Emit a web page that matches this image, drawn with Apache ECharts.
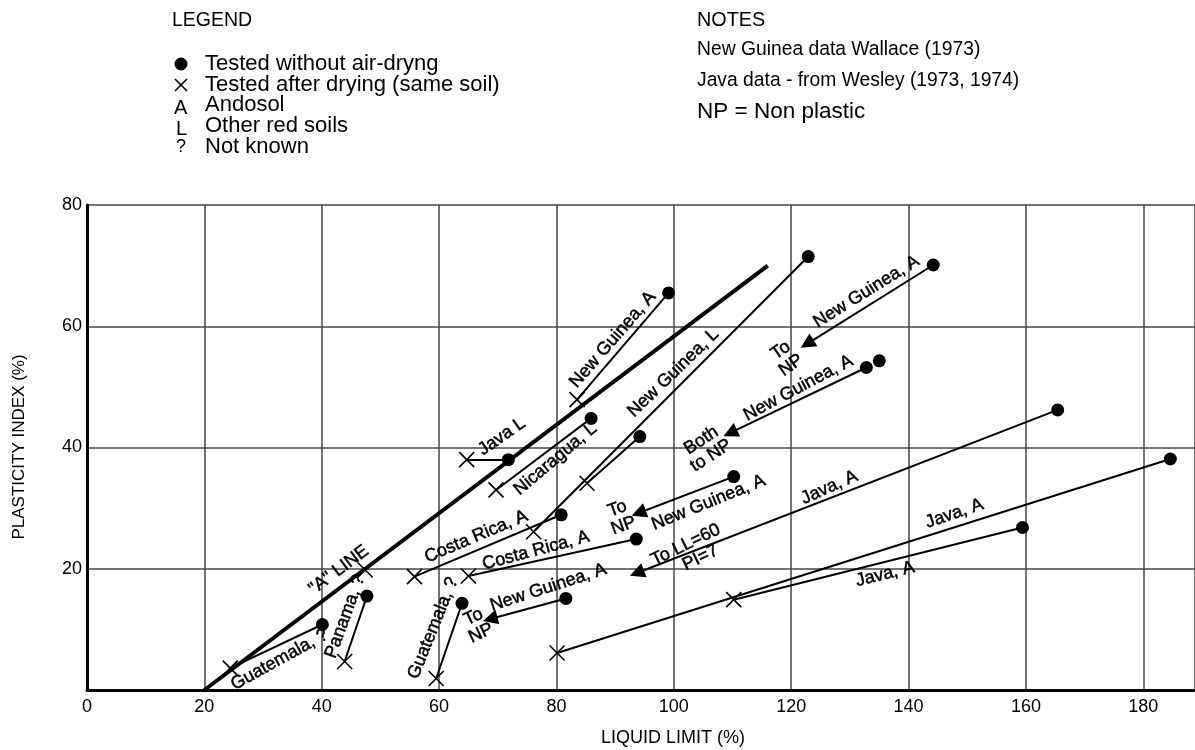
<!DOCTYPE html>
<html><head><meta charset="utf-8">
<script src="https://cdn.jsdelivr.net/npm/echarts@6/dist/echarts.min.js"></script>
<style>html,body{margin:0;padding:0;background:#fff}#c{width:1195px;height:750px}</style>
</head><body><div id="c"></div>
<script>
// ---- data (LL %, PI %) ----
const xTicks = [0, 20, 40, 60, 80, 100, 120, 140, 160, 180];
const yTicks = [20, 40, 60, 80];
// Tested without air-drying
const undried = [
  [40.1, 10.8], [47.7, 15.5], [63.9, 14.3], [81.6, 15.1], [80.8, 28.9], [93.6, 24.9],
  [110.2, 35.2], [94.2, 41.8], [85.9, 44.8], [71.8, 38.0], [99.1, 65.5], [122.9, 71.5],
  [144.2, 70.1], [132.8, 53.2], [135.0, 54.3], [165.4, 46.2], [184.6, 38.1], [159.4, 26.8]
];
// Tested after drying (same soil)
const dried = [
  [24.4, 3.6], [43.9, 4.7], [47.4, 19.8], [59.5, 1.9], [55.8, 18.7], [65.0, 18.8],
  [76.1, 26.1], [85.2, 34.1], [69.7, 33.0], [64.7, 38.0], [83.5, 47.9], [110.2, 14.9], [80.1, 6.1]
];
// links: [undried index, dried index]
const dryingLinks = [[0, 0], [1, 1], [2, 3], [4, 4], [5, 5], [11, 6], [7, 7], [8, 8], [9, 9], [10, 10], [17, 11], [16, 12]];
// arrows: [undried index, target]
const arrowTargets = [[12, [122.7, 57.1]], [13, [109.6, 42.4]], [6, [94.0, 29.2]], [3, [68.7, 11.7]], [15, [93.7, 19.3]]];
const aLine = [[20, 0], [116, 70]];
const annotations = [
  { text: '"A" LINE', at: [42.9, 19.8], angle: 37 },
  { text: 'Guatemala, ?', at: [32.8, 5.0], angle: 29 },
  { text: 'Panama, ?', at: [44.0, 12.1], angle: 70 },
  { text: 'Guatemala, ?', at: [59.0, 10.2], angle: 68 },
  { text: 'To\nNP', at: [66.5, 10.7], angle: 25 },
  { text: 'New Guinea, A', at: [78.6, 16.9], angle: 18 },
  { text: 'Costa Rica, A', at: [76.5, 23.0], angle: 15 },
  { text: 'Costa Rica, A', at: [66.3, 25.3], angle: 23 },
  { text: 'To\nNP', at: [90.9, 28.5], angle: 20 },
  { text: 'New Guinea, A', at: [105.9, 30.9], angle: 22 },
  { text: 'To LL=60\n   PI=7', at: [102.7, 22.6], angle: 26 },
  { text: 'Java, A', at: [126.5, 33.4], angle: 24 },
  { text: 'Java, A', at: [147.8, 29.1], angle: 19 },
  { text: 'Java, A', at: [136.0, 19.1], angle: 14 },
  { text: 'Java L', at: [70.7, 41.8], angle: 35 },
  { text: 'Nicaragua, L', at: [79.8, 38.1], angle: 40 },
  { text: 'New Guinea, L', at: [99.9, 52.3], angle: 44 },
  { text: 'New Guinea, A', at: [89.6, 57.8], angle: 49 },
  { text: 'New Guinea, A', at: [132.8, 65.7], angle: 32 },
  { text: 'To\nNP', at: [119.1, 54.8], angle: 35 },
  { text: 'New Guinea, A', at: [121.2, 49.8], angle: 28 },
  { text: 'Both\nto NP', at: [105.5, 39.9], angle: 33 }
];

const FONT = '"Liberation Sans", Arial, Helvetica, sans-serif';
const chart = echarts.init(document.getElementById('c'), null, { renderer: 'canvas' });

const linkData = dryingLinks.map(([u, d]) => ({ coords: [undried[u], dried[d]] }));
const arrowData = arrowTargets.map(([u, t]) => ({ coords: [undried[u], t] }));

const txt = (x, y, text, size, extra) => Object.assign({
  type: 'text', x, y, style: { text, fontFamily: FONT, fontSize: size, fill: '#000', verticalAlign: 'middle' }
}, extra || {});

const legendRows = [64, 85, 105, 126, 147];
const graphics = [
  txt(172, 21, 'LEGEND', 19.5),
  { type: 'circle', shape: { cx: 181, cy: legendRows[0], r: 6.5 }, style: { fill: '#000' } },
  { type: 'line', shape: { x1: 175, y1: legendRows[1] - 6, x2: 187, y2: legendRows[1] + 6 }, style: { stroke: '#000', lineWidth: 1.6 } },
  { type: 'line', shape: { x1: 187, y1: legendRows[1] - 6, x2: 175, y2: legendRows[1] + 6 }, style: { stroke: '#000', lineWidth: 1.6 } },
  txt(174, legendRows[2] + 3, 'A', 20),
  txt(176, legendRows[3] + 3, 'L', 20),
  txt(176, legendRows[4], '?', 18),
  txt(205, legendRows[0], 'Tested without air-dryng', 22),
  txt(205, legendRows[1], 'Tested after drying (same soil)', 22),
  txt(205, legendRows[2], 'Andosol', 22),
  txt(205, legendRows[3], 'Other red soils', 22),
  txt(205, legendRows[4], 'Not known', 22),
  txt(697, 21, 'NOTES', 19.8),
  txt(697, 50, 'New Guinea data Wallace (1973)', 19.3),
  txt(697, 81, 'Java data - from Wesley (1973, 1974)', 19.3),
  txt(697, 112, 'NP = Non plastic', 22.5),
  { type: 'text', x: 673, y: 738, style: { text: 'LIQUID LIMIT (%)', fontFamily: FONT, fontSize: 18, fill: '#000', align: 'center', verticalAlign: 'middle' } },
  { type: 'text', x: 19, y: 447, rotation: Math.PI / 2, style: { text: 'PLASTICITY INDEX (%)', fontFamily: FONT, fontSize: 17, fill: '#000', align: 'center', verticalAlign: 'middle' } }
];

const crossPath = 'path://M0 0L10 10M10 0L0 10';

chart.setOption({
  backgroundColor: '#fff',
  animation: false,
  textStyle: { fontFamily: FONT },
  grid: { left: 87, right: 0, top: 205, bottom: 60, containLabel: false },
  xAxis: {
    type: 'value', min: 0, max: 188.8, interval: 20,
    axisLine: { show: true, lineStyle: { color: '#000', width: 3 } },
    axisTick: { show: false },
    axisLabel: { color: '#000', fontSize: 18, margin: 8, fontFamily: FONT, showMaxLabel: false,
      formatter: v => (xTicks.indexOf(v) >= 0 ? String(v) : '') },
    splitLine: { show: true, lineStyle: { color: '#444', width: 1.5 } }
  },
  yAxis: {
    type: 'value', min: 0, max: 80, interval: 20,
    axisLine: { show: true, onZero: false, lineStyle: { color: '#000', width: 3 } },
    axisTick: { show: false },
    axisLabel: { color: '#000', fontSize: 18, margin: 5, fontFamily: FONT, showMinLabel: false,
      formatter: v => (yTicks.indexOf(v) >= 0 ? String(v) : '') },
    splitLine: { show: true, lineStyle: { color: '#444', width: 1.5 } }
  },
  graphic: graphics,
  series: [
    {
      type: 'lines', coordinateSystem: 'cartesian2d', z: 3,
      data: [{ coords: aLine }],
      lineStyle: { color: '#000', width: 4, opacity: 1 }, symbol: ['none', 'none']
    },
    {
      type: 'lines', coordinateSystem: 'cartesian2d', z: 3,
      data: linkData,
      lineStyle: { color: '#000', width: 2, opacity: 1 }, symbol: ['none', 'none']
    },
    {
      type: 'lines', coordinateSystem: 'cartesian2d', z: 3,
      data: arrowData,
      lineStyle: { color: '#000', width: 2, opacity: 1 },
      symbol: ['none', 'triangle'], symbolSize: [9, 15],
      itemStyle: { color: '#000' }
    },
    {
      type: 'scatter', z: 5, symbol: 'circle', symbolSize: 13,
      itemStyle: { color: '#000', opacity: 1 },
      data: undried
    },
    {
      type: 'scatter', z: 5, symbol: crossPath, symbolSize: 15,
      itemStyle: { color: 'none', borderColor: '#000', borderWidth: 1.6, opacity: 1 },
      data: dried
    },
    {
      type: 'scatter', z: 6, symbolSize: 1, silent: true,
      itemStyle: { color: 'rgba(0,0,0,0)' },
      label: { show: true, position: 'inside', formatter: '{b}', color: '#000', fontSize: 18,
        fontFamily: FONT, align: 'center', verticalAlign: 'middle', lineHeight: 18,
        textBorderWidth: 0.5, textBorderColor: '#000', opacity: 1 },
      data: annotations.map(a => ({ name: a.text, value: a.at, label: { rotate: a.angle } }))
    }
  ]
});
</script>
</body></html>
